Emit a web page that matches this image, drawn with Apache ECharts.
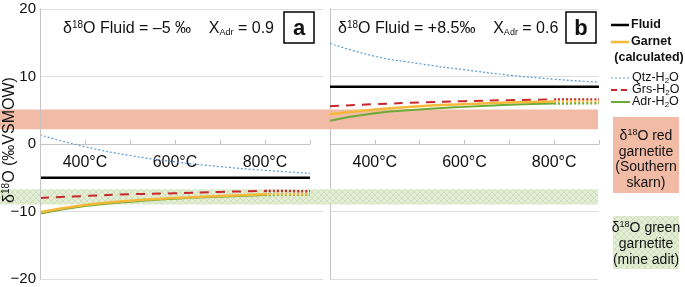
<!DOCTYPE html>
<html>
<head>
<meta charset="utf-8">
<script src="https://cdn.jsdelivr.net/npm/echarts@6/dist/echarts.min.js"></script>
<style>
  html, body { margin: 0; padding: 0; background: #fff; }
  #chart { width: 685px; height: 287px; }
</style>
</head>
<body>
<div id="chart"></div>
<script>
// temperatures (x axis) and the labelled ticks
var temps = [300, 400, 500, 600, 700, 800, 900];
var tempLabels = [400, 600, 800];
var yTicks = [-20, -10, 0, 10, 20];

// panel a : fluid -5 permil, X_Adr 0.9
var fluidA  = [-5, -5, -5, -5, -5, -5, -5];
var qtzA    = [1.35, -0.4, -1.7, -2.65, -3.35, -3.9, -4.35];
var grsA    = [-8.0, -7.7, -7.45, -7.3, -7.1, -6.95, -7.0];
var adrA    = [-10.3, -9.2, -8.55, -8.1, -7.8, -7.55, -7.5];
var garnetA = [-10.1, -9.05, -8.4, -8.0, -7.7, -7.45, -7.45];

// panel b : fluid +8.5 permil, X_Adr 0.6
var fluidB  = [8.5, 8.5, 8.5, 8.5, 8.5, 8.5, 8.5];
var qtzB    = [14.9, 13.0, 11.9, 11.0, 10.2, 9.6, 9.15];
var grsB    = [5.6, 5.9, 6.15, 6.35, 6.5, 6.6, 6.6];
var adrB    = [3.45, 4.55, 5.1, 5.5, 5.8, 6.0, 6.05];
var garnetB = [4.4, 5.1, 5.6, 5.9, 6.15, 6.3, 6.35];

// measured garnetite ranges (permil)
var redBand   = [2.2, 5.1];
var greenBand = [-8.95, -6.7];

var FONT = "'Liberation Sans', Arial, Helvetica, sans-serif";
var GRID_TOP = 9, GRID_H = 270;

function hatch() {
  var c = document.createElement('canvas');
  c.width = 6; c.height = 6;
  var g = c.getContext('2d');
  g.fillStyle = '#e4eed7';
  g.fillRect(0, 0, 6, 6);
  g.strokeStyle = '#c9dab2';
  g.lineWidth = 0.8;
  g.beginPath();
  g.moveTo(0, 0); g.lineTo(6, 6);
  g.moveTo(6, 0); g.lineTo(0, 6);
  g.stroke();
  return c;
}
var hatchPattern = { image: hatch(), repeat: 'repeat' };

function pts(vals, from, to) {
  var out = [];
  for (var i = from; i <= to; i++) out.push([temps[i], vals[i]]);
  return out;
}

function line(idx, data, color, width, type) {
  return {
    type: 'line', xAxisIndex: idx, yAxisIndex: idx,
    data: data, smooth: true, showSymbol: false, symbol: 'none',
    silent: true, z: 3,
    lineStyle: { color: color, width: width, type: type || 'solid' }
  };
}

function panelSeries(idx, fluid, qtz, grs, adr, garnet) {
  var last = temps.length - 1;
  return [
    line(idx, pts(qtz, 0, last), '#5b9bd5', 1.2, [2, 2]),
    line(idx, pts(fluid, 0, last), '#000', 2.5),
    line(idx, pts(grs, 0, last - 1), '#c9282b', 2, [9, 7]),
    line(idx, pts(grs, last - 1, last), '#c9282b', 2.5, [2, 2]),
    line(idx, pts(adr, 0, last - 1), '#6aaa35', 2),
    line(idx, pts(adr, last - 1, last), '#6aaa35', 2.5, [2, 2]),
    line(idx, pts(garnet, 0, last - 1), '#f5b83a', 2.5),
    line(idx, pts(garnet, last - 1, last), '#f5b83a', 2.5, [2, 2])
  ];
}

// x axis drawn through y = 0 (middle of the grid)
function tempAxis(gi) {
  return {
    type: 'value', gridIndex: gi, min: temps[0], max: temps[temps.length - 1], interval: 100,
    position: 'bottom', offset: -GRID_H / 2,
    axisLine: { onZero: false, lineStyle: { color: '#c4c4c4', width: 1 } },
    axisTick: { show: true, inside: true, length: 4, lineStyle: { color: '#c4c4c4' } },
    splitLine: { show: false },
    axisLabel: {
      margin: 11, color: '#111', fontSize: 16, fontFamily: FONT,
      formatter: function (v) { return tempLabels.indexOf(v) >= 0 ? v + '°C' : ''; }
    }
  };
}

function gridOnlyY(gi) {
  return {
    type: 'value', gridIndex: gi, min: yTicks[0], max: yTicks[yTicks.length - 1], interval: 10,
    axisLine: { show: false }, axisTick: { show: false }, axisLabel: { show: false },
    splitLine: {
      show: true,
      lineStyle: { color: ['#dedede', '#dedede', 'rgba(0,0,0,0)', '#dedede', '#dedede'], width: 1 }
    }
  };
}

function grid(left, width) {
  return { left: left, top: GRID_TOP, width: width, height: GRID_H, outerBoundsMode: 'none', containLabel: false };
}

var chart = echarts.init(document.getElementById('chart'), null, { renderer: 'canvas' });

var option = {
  animation: false,
  backgroundColor: '#fff',
  grid: [grid(40, 270), grid(330, 269), grid(40, 283), grid(330, 268), grid(0, 598)],
  xAxis: [
    tempAxis(0),
    tempAxis(1),
    { type: 'value', gridIndex: 2, min: 0, max: 1, show: false },
    { type: 'value', gridIndex: 3, min: 0, max: 1, show: false },
    { type: 'value', gridIndex: 4, min: 0, max: 1, show: false }
  ],
  yAxis: [
    {
      type: 'value', gridIndex: 0, min: -20, max: 20, interval: 10, z: 4,
      axisLine: { show: true, lineStyle: { color: '#c4c4c4' } },
      axisTick: { show: false },
      splitLine: { show: false },
      axisLabel: {
        margin: 4, color: '#111', fontSize: 15, fontFamily: FONT,
        formatter: function (v) { return v < 0 ? '\u2212' + Math.abs(v) : String(v); }
      }
    },
    {
      type: 'value', gridIndex: 1, min: -20, max: 20, interval: 10,
      axisLine: { show: true, lineStyle: { color: '#c4c4c4' } },
      axisTick: { show: false }, axisLabel: { show: false }, splitLine: { show: false }
    },
    gridOnlyY(2),
    gridOnlyY(3),
    { type: 'value', gridIndex: 4, min: -20, max: 20, show: false }
  ],
  series: [
    {
      type: 'line', xAxisIndex: 4, yAxisIndex: 4, data: [], silent: true, z: 1,
      markArea: {
        silent: true,
        data: [
          [{ yAxis: redBand[0], itemStyle: { color: '#f1bba6' } }, { yAxis: redBand[1] }],
          [{ yAxis: greenBand[0], itemStyle: { color: hatchPattern } }, { yAxis: greenBand[1] }]
        ]
      }
    }
  ].concat(panelSeries(0, fluidA, qtzA, grsA, adrA, garnetA))
   .concat(panelSeries(1, fluidB, qtzB, grsB, adrB, garnetB)),
  graphic: []
};

var richTitle = {
  n: { fontSize: 16, fontFamily: FONT, fill: '#111' },
  sup: { fontSize: 10, fontFamily: FONT, fill: '#111', verticalAlign: 'top', padding: [0, 0, 7, 0] },
  sub: { fontSize: 9, fontFamily: FONT, fill: '#111', verticalAlign: 'bottom', padding: [6, 0, 0, 0] }
};

function txt(x, y, text, style) {
  var s = { x: x, y: y, text: text, verticalAlign: 'middle', fontFamily: FONT, fill: '#111' };
  for (var k in style) s[k] = style[k];
  return { type: 'text', silent: true, z: 10, style: s };
}
function seg(x1, y1, x2, y2, color, width, dash) {
  return { type: 'line', silent: true, z: 10,
    shape: { x1: x1, y1: y1, x2: x2, y2: y2 },
    style: { stroke: color, lineWidth: width, lineDash: dash || null } };
}
function box(x, y, w, h, label) {
  return [
    { type: 'rect', silent: true, z: 10, shape: { x: x, y: y, width: w, height: h },
      style: { fill: '#fff', stroke: '#000', lineWidth: 1.5 } },
    txt(x + w / 2, y + h / 2 + 1, label, { align: 'center', fontSize: 22, fontWeight: 'bold' })
  ];
}

var g = option.graphic;
// y axis title (rotated)
g.push({
  type: 'text', silent: true, z: 10, x: 10, y: 140, rotation: Math.PI / 2,
  style: {
    x: 0, y: 0, align: 'center', verticalAlign: 'middle',
    text: '{n|δ}{sup|18}{n|O (‰VSMOW)}',
    rich: {
      n: { fontSize: 16, fontFamily: FONT, fill: '#111' },
      sup: { fontSize: 10, fontFamily: FONT, fill: '#111', verticalAlign: 'top', padding: [0, 0, 7, 0] }
    }
  }
});
// panel titles
g.push(txt(63, 29, '{n|δ}{sup|18}{n|O Fluid = –5 ‰    X}{sub|Adr}{n| = 0.9}', { rich: richTitle }));
g.push(txt(338, 29, '{n|δ}{sup|18}{n|O Fluid = +8.5‰    X}{sub|Adr}{n| = 0.6}', { rich: richTitle }));
g = g.concat(box(284, 12, 30, 31, 'a')).concat(box(566, 12, 30, 31, 'b'));

// legend
var legRich = {
  n: { fontSize: 12.5, fontFamily: FONT, fill: '#111' },
  sub: { fontSize: 8, fontFamily: FONT, fill: '#111', verticalAlign: 'bottom', padding: [5, 0, 0, 0] }
};
g.push(seg(611, 25, 629, 25, '#000', 2.5));
g.push(txt(631, 25, 'Fluid', { fontSize: 12.5, fontWeight: 'bold' }));
g.push(seg(611, 42, 629, 42, '#f5b83a', 2.5));
g.push(txt(631, 42, 'Garnet', { fontSize: 12.5, fontWeight: 'bold' }));
g.push(txt(649, 58, '(calculated)', { fontSize: 12.5, fontWeight: 'bold', align: 'center' }));
g.push(seg(611, 78, 630, 78, '#5b9bd5', 1.2, [2, 2]));
g.push(txt(632, 78, '{n|Qtz-H}{sub|2}{n|O}', { rich: legRich }));
g.push(seg(611, 90, 630, 90, '#c9282b', 2, [6, 4]));
g.push(txt(632, 90, '{n|Grs-H}{sub|2}{n|O}', { rich: legRich }));
g.push(seg(611, 102, 630, 102, '#6aaa35', 2));
g.push(txt(632, 102, '{n|Adr-H}{sub|2}{n|O}', { rich: legRich }));

// sample range boxes
var boxRich = {
  n: { fontSize: 14, fontFamily: FONT, fill: '#111', lineHeight: 15.7 },
  sup: { fontSize: 9, fontFamily: FONT, fill: '#111', lineHeight: 15.7, verticalAlign: 'top', padding: [0, 0, 6, 0] }
};
g.push({ type: 'rect', silent: true, z: 9, shape: { x: 613, y: 117, width: 66, height: 76 }, style: { fill: '#f1bba6' } });
g.push(txt(646, 159.5, '{n|δ}{sup|18}{n|O red}\n{n|garnetite}\n{n|(Southern}\n{n|skarn)}', { rich: boxRich, align: 'center' }));
g.push({ type: 'rect', silent: true, z: 9, shape: { x: 613, y: 216, width: 66, height: 53 }, style: { fill: hatchPattern } });
g.push(txt(646, 244, '{n|δ}{sup|18}{n|O green}\n{n|garnetite}\n{n|(mine adit)}', { rich: boxRich, align: 'center' }));

option.graphic = g;
chart.setOption(option);
</script>
</body>
</html>
